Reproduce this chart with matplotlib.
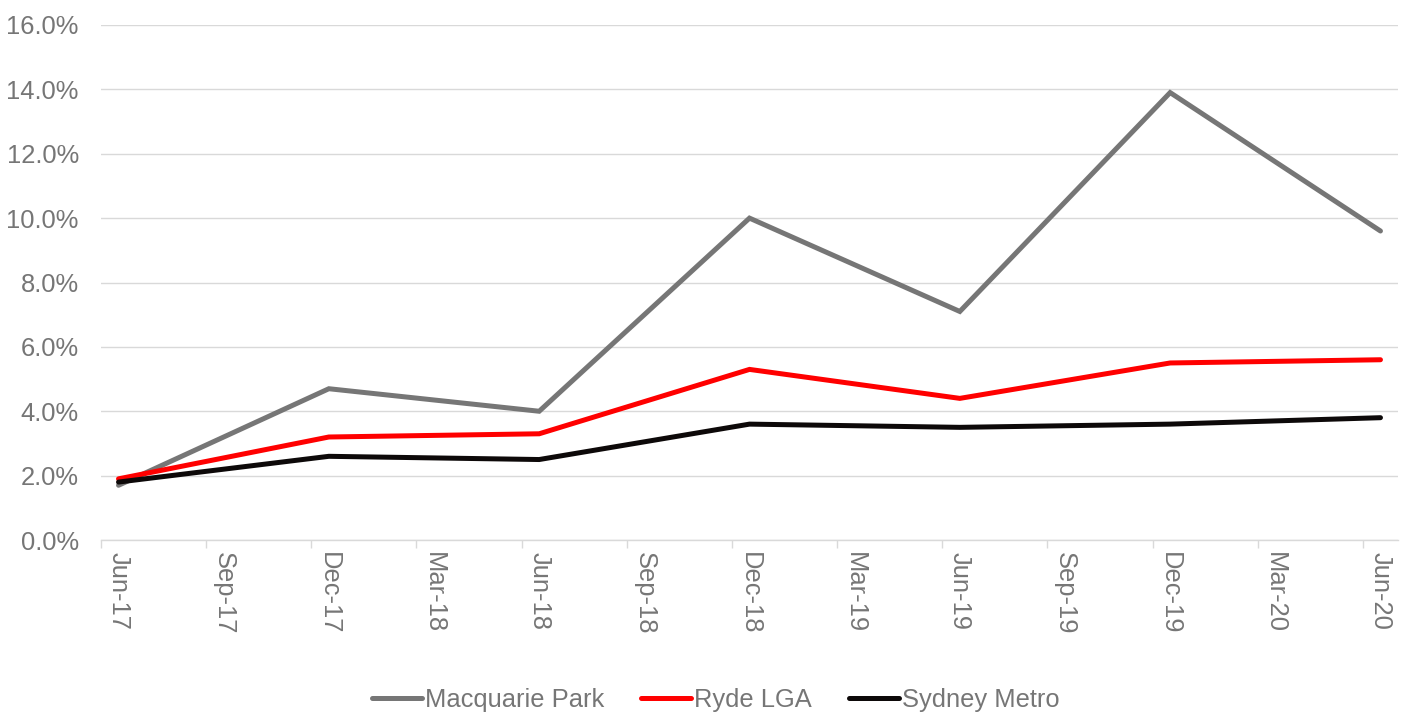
import matplotlib
matplotlib.use("Agg")
import matplotlib.pyplot as plt
import pandas as pd
from matplotlib.ticker import FuncFormatter, FixedLocator

plt.rcParams['font.family'] = ['Liberation Sans', 'DejaVu Sans']

# ---- data ----
dates = ['2017-06', '2017-12', '2018-06', '2018-12', '2019-06', '2019-12', '2020-06']
macquarie_park = [1.7, 4.7, 4.0, 10.0, 7.1, 13.9, 9.6]
ryde_lga = [1.9, 3.2, 3.3, 5.3, 4.4, 5.5, 5.6]
sydney_metro = [1.8, 2.6, 2.5, 3.6, 3.5, 3.6, 3.8]
tick_labels = ['Jun-17', 'Sep-17', 'Dec-17', 'Mar-18', 'Jun-18', 'Sep-18', 'Dec-18',
               'Mar-19', 'Jun-19', 'Sep-19', 'Dec-19', 'Mar-20', 'Jun-20']
series_names = ['Macquarie Park', 'Ryde LGA', 'Sydney Metro']
y_ticks = [0, 2, 4, 6, 8, 10, 12, 14, 16]

# convert dates to month index from Jun-2017 (mid-month position)
start = pd.Period('2017-06', freq='M')
x = [(pd.Period(d, freq='M') - start).n + 0.5 for d in dates]

fig = plt.figure(figsize=(14.05, 7.13), dpi=100)
ax = fig.add_axes([101/1405, 1 - 540/713, (1398 - 101)/1405, (540 - 25)/713])

colors = ['#767676', '#ff0000', '#0d0909']
for vals, c, name in zip([macquarie_park, ryde_lga, sydney_metro], colors, series_names):
    ax.plot(x, vals, color=c, lw=3.6, label=name, solid_joinstyle='miter', solid_capstyle='round')

ax.set_xlim(0, 37)
ax.set_ylim(0, 16)

FS = 18.4

# y axis
ax.set_yticks(y_ticks)
ax.yaxis.set_major_formatter(FuncFormatter(lambda v, p: f'{v:.1f}%'))
ax.grid(axis='y', color='#d9d9d9', lw=1.0)
ax.set_axisbelow(True)

# x axis: tick marks at quarter starts, labels mid-month
ax.xaxis.set_major_locator(FixedLocator([3*k + 0.5 for k in range(len(tick_labels))]))
ax.set_xticklabels(tick_labels, rotation=270)
ax.xaxis.set_minor_locator(FixedLocator([3*k for k in range(len(tick_labels))]))
ax.tick_params(axis='x', which='major', length=0, pad=9, labelsize=FS, labelcolor='#767676')
ax.tick_params(axis='x', which='minor', length=6, width=1.0, color='#d9d9d9', direction='out')
ax.tick_params(axis='y', length=0, pad=16, labelsize=FS, labelcolor='#767676')
for lbl in ax.get_xticklabels():
    lbl.set_va('top')
    lbl.set_ha('center')

for s in ['top', 'right', 'left']:
    ax.spines[s].set_visible(False)
ax.spines['bottom'].set_color('#d9d9d9')
ax.spines['bottom'].set_linewidth(1.0)

leg = fig.legend(loc='center', bbox_to_anchor=(716/1405, 1 - 700/713), ncol=3, frameon=False,
                 fontsize=FS, handlelength=1.95, handletextpad=0.12, columnspacing=1.45,
                 labelcolor='#767676')

fig.savefig('out.png', dpi=100)
